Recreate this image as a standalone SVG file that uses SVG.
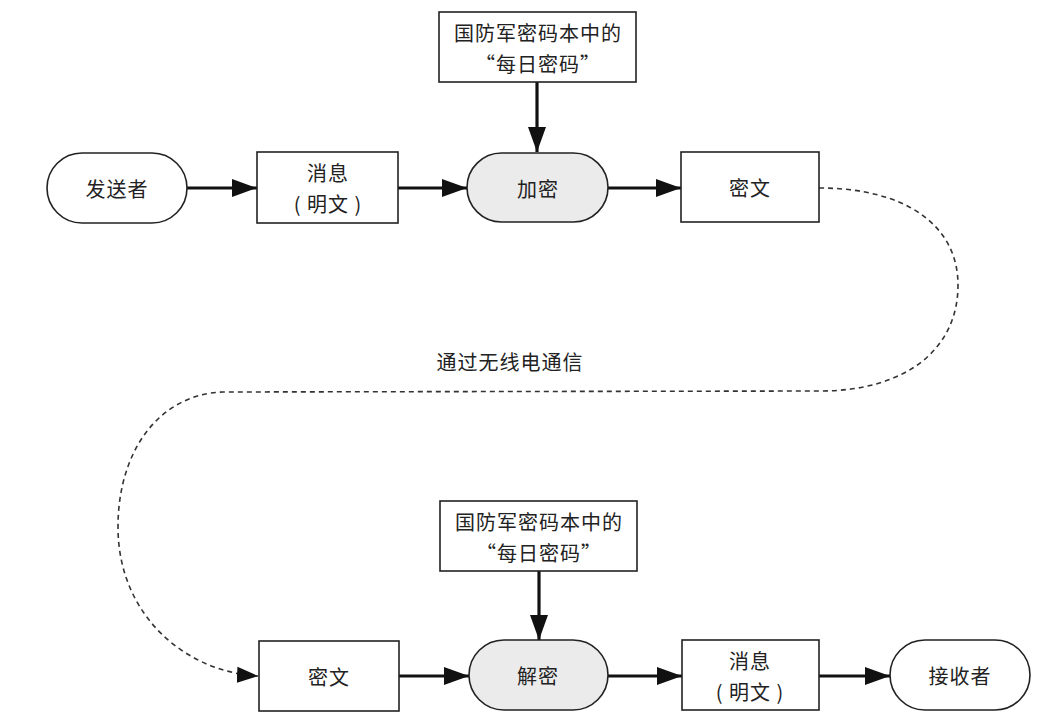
<svg xmlns="http://www.w3.org/2000/svg" width="1048" height="719" viewBox="0 0 1048 719">
<defs>
<style>
.box{fill:#fff;stroke:#222;stroke-width:1.6}
.pill{fill:#fff;stroke:#222;stroke-width:1.6}
.gray{fill:#ebebeb}
.t{font-family:"Noto Sans CJK SC","Noto Sans",sans-serif;font-size:20px;fill:#222;text-anchor:middle;dominant-baseline:central;letter-spacing:1px}
.c{stroke:#111;stroke-width:3.2;fill:none}
.d{stroke:#333;stroke-width:1.6;fill:none;stroke-dasharray:5,4}
</style>
<marker id="ah" markerUnits="userSpaceOnUse" markerWidth="26" markerHeight="20" viewBox="0 0 26 20" refX="25" refY="10" orient="auto">
<path d="M0,1 L25,10 L0,19 Z" fill="#111"/>
</marker>
<marker id="ahd" markerUnits="userSpaceOnUse" markerWidth="22" markerHeight="18" viewBox="0 0 22 18" refX="21" refY="9" orient="auto">
<path d="M0,1 L21,9 L0,17 Z" fill="#111"/>
</marker>
</defs>
<rect width="1048" height="719" fill="#fff"/>

<g id="connectors">
<line class="c" x1="537" y1="82" x2="537" y2="152" marker-end="url(#ah)"/>
<line class="c" x1="187" y1="188" x2="257" y2="188" marker-end="url(#ah)"/>
<line class="c" x1="398" y1="188" x2="467" y2="188" marker-end="url(#ah)"/>
<line class="c" x1="608" y1="188" x2="681" y2="188" marker-end="url(#ah)"/>
<path class="d" d="M819,188 C905,188 958,225 958,285 C958,350 905,391 820,391 L223,392 C160,394 118,450 118,527 C118,615 185,672 258,676" marker-end="url(#ahd)"/>
<line class="c" x1="539" y1="571" x2="539" y2="640" marker-end="url(#ah)"/>
<line class="c" x1="399" y1="676" x2="469" y2="676" marker-end="url(#ah)"/>
<line class="c" x1="608" y1="676" x2="682" y2="676" marker-end="url(#ah)"/>
<line class="c" x1="819" y1="676" x2="890" y2="676" marker-end="url(#ah)"/>
</g>

<g id="key-top">
<rect class="box" x="439" y="12" width="197" height="70"/>
<text class="t" x="538" y="32">国防军密码本中的</text>
<text class="t" x="538" y="63">“每日密码”</text>
</g>

<g id="sender">
<rect class="pill" x="47" y="153" width="140" height="70" rx="35"/>
<text class="t" x="117" y="188">发送者</text>
</g>

<g id="plain-top">
<rect class="box" x="257" y="152" width="141" height="71"/>
<text class="t" x="328" y="172">消息</text>
<text class="t" x="328" y="203" xml:space="preserve">( 明文 )</text>
</g>

<g id="encrypt">
<rect class="pill gray" x="467" y="153" width="141" height="69" rx="34.5"/>
<text class="t" x="538" y="188">加密</text>
</g>

<g id="cipher-top">
<rect class="box" x="681" y="152" width="138" height="70"/>
<text class="t" x="750" y="187">密文</text>
</g>

<g id="radio-label">
<text class="t" x="510" y="361">通过无线电通信</text>
</g>

<g id="key-bottom">
<rect class="box" x="440" y="501" width="197" height="70"/>
<text class="t" x="539" y="521">国防军密码本中的</text>
<text class="t" x="539" y="552">“每日密码”</text>
</g>

<g id="cipher-bottom">
<rect class="box" x="259" y="641" width="140" height="70"/>
<text class="t" x="329" y="676">密文</text>
</g>

<g id="decrypt">
<rect class="pill gray" x="469" y="640" width="139" height="70" rx="35"/>
<text class="t" x="538" y="675">解密</text>
</g>

<g id="plain-bottom">
<rect class="box" x="682" y="640" width="137" height="70"/>
<text class="t" x="750" y="660">消息</text>
<text class="t" x="750" y="691" xml:space="preserve">( 明文 )</text>
</g>

<g id="receiver">
<rect class="pill" x="890" y="640" width="140" height="70" rx="35"/>
<text class="t" x="960" y="675">接收者</text>
</g>
</svg>
